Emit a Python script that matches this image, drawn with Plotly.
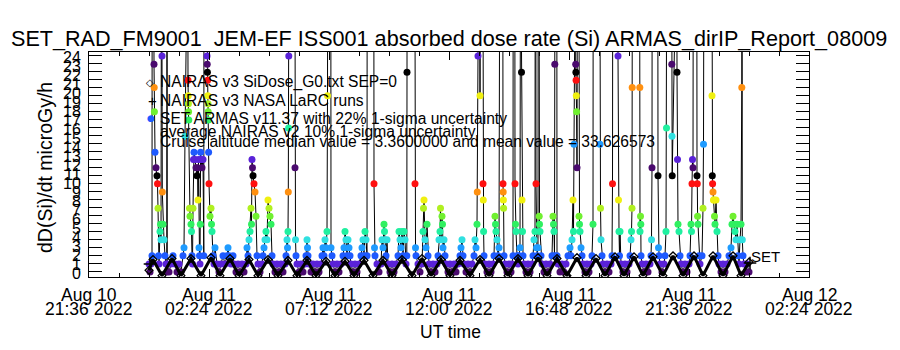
import plotly.graph_objects as go
from datetime import datetime, timedelta

# ---------------- data ----------------
title_text = "SET_RAD_FM9001  JEM-EF ISS001 absorbed dose rate (Si) ARMAS_dirIP_Report_08009"
y_label = "dD(Si)/dt microGy/h"
x_label = "UT time"

x_tick_times = ["2022-08-10 21:36", "2022-08-11 02:24", "2022-08-11 07:12", "2022-08-11 12:00",
                "2022-08-11 16:48", "2022-08-11 21:36", "2022-08-12 02:24"]
x_tick_line1 = ["Aug 10", "Aug 11", "Aug 11", "Aug 11", "Aug 11", "Aug 11", "Aug 12"]
x_tick_line2 = ["21:36 2022", "02:24 2022", "07:12 2022", "12:00 2022", "16:48 2022", "21:36 2022", "02:24 2022"]
y_tick_labels = [str(v) for v in range(0, 25)]
level_ticks = [0.11, 1.0, 1.89, 2.78, 3.67, 4.56, 5.44, 6.33, 7.22, 8.11, 9.0, 9.89, 10.78, 11.67,
               12.56, 13.44, 14.33, 15.22, 16.11, 17.0, 17.89, 18.78, 19.67, 20.56, 21.44, 22.33, 23.22, 24.11]

start_time = "2022-08-11 00:00"

# SET ARMAS dose rate: hours since start, dose (microGy/h); 40 = off-scale high (SAA)
armas_hours = [
    0.000, 0.040, 0.080, 0.120, 0.128, 0.192, 0.200, 0.208, 0.216, 0.240,
    0.280, 0.320, 0.340, 0.360, 0.380, 0.400, 0.440, 0.460, 0.480, 0.500,
    0.520, 0.532, 0.560, 0.600, 0.640, 0.680, 0.712, 0.720, 0.728, 0.800,
    0.880, 0.960, 1.040, 1.120, 1.200, 1.280, 1.360, 1.400, 1.440, 1.448,
    1.552, 1.560, 1.568, 1.576, 1.584, 1.592, 1.620, 1.640, 1.680, 1.700,
    1.720, 1.740, 1.760, 1.780, 1.800, 1.840, 1.880, 1.920, 1.940, 1.960,
    1.980, 2.000, 2.020, 2.040, 2.052, 2.064, 2.080, 2.120, 2.160, 2.192,
    2.200, 2.312, 2.320, 2.328, 2.336, 2.344, 2.352, 2.360, 2.368, 2.376,
    2.384, 2.400, 2.440, 2.480, 2.500, 2.520, 2.560, 2.600, 2.640, 2.720,
    2.800, 2.880, 2.960, 3.040, 3.120, 3.160, 3.200, 3.280, 3.360, 3.400,
    3.480, 3.560, 3.640, 3.720, 3.800, 3.880, 3.920, 3.960, 4.000, 4.040,
    4.080, 4.100, 4.120, 4.140, 4.160, 4.200, 4.240, 4.280, 4.320, 4.360,
    4.440, 4.520, 4.560, 4.600, 4.640, 4.680, 4.720, 4.760, 4.800, 4.840,
    4.880, 4.920, 4.960, 5.040, 5.120, 5.200, 5.280, 5.360, 5.440, 5.480,
    5.520, 5.540, 5.560, 5.572, 5.584, 5.592, 5.600, 5.832, 5.840, 5.860,
    5.880, 5.920, 6.000, 6.080, 6.160, 6.240, 6.280, 6.320, 6.340, 6.360,
    6.400, 6.480, 6.560, 6.640, 6.720, 6.800, 6.880, 6.920, 6.960, 7.000,
    7.040, 7.080, 7.120, 7.140, 7.152, 7.272, 7.280, 7.320, 7.360, 7.440,
    7.520, 7.600, 7.680, 7.760, 7.800, 7.840, 7.880, 7.920, 7.960, 8.000,
    8.040, 8.080, 8.160, 8.240, 8.320, 8.400, 8.480, 8.520, 8.560, 8.600,
    8.640, 8.680, 8.720, 8.728, 8.992, 9.000, 9.020, 9.040, 9.120, 9.200,
    9.280, 9.320, 9.360, 9.400, 9.420, 9.440, 9.480, 9.520, 9.560, 9.640,
    9.720, 9.800, 9.880, 9.960, 10.000, 10.040, 10.080, 10.120, 10.160, 10.200,
    10.240, 10.280, 10.312, 10.320, 10.328, 10.632, 10.640, 10.660, 10.680, 10.760,
    10.840, 10.920, 10.960, 10.980, 11.000, 11.040, 11.080, 11.120, 11.160, 11.200,
    11.280, 11.360, 11.440, 11.520, 11.560, 11.600, 11.640, 11.660, 11.680, 11.720,
    11.740, 11.760, 11.800, 11.840, 11.880, 11.960, 12.040, 12.120, 12.200, 12.280,
    12.360, 12.440, 12.480, 12.520, 12.560, 12.600, 12.680, 12.760, 12.840, 12.920,
    13.000, 13.040, 13.080, 13.120, 13.132, 13.160, 13.168, 13.232, 13.240, 13.248,
    13.352, 13.360, 13.372, 13.384, 13.400, 13.440, 13.520, 13.600, 13.680, 13.760,
    13.800, 13.840, 13.860, 13.880, 13.920, 13.960, 14.000, 14.032, 14.152, 14.160,
    14.168, 14.176, 14.184, 14.200, 14.240, 14.320, 14.400, 14.480, 14.520, 14.560,
    14.568, 14.632, 14.640, 14.660, 14.680, 14.720, 14.760, 14.800, 14.840, 14.860,
    14.892, 14.900, 14.920, 14.940, 14.960, 15.000, 15.080, 15.160, 15.240, 15.320,
    15.360, 15.400, 15.440, 15.448, 15.472, 15.480, 15.500, 15.520, 15.560, 15.568,
    15.600, 15.608, 15.620, 15.640, 15.680, 15.720, 15.800, 15.880, 15.960, 16.040,
    16.120, 16.160, 16.180, 16.200, 16.220, 16.232, 16.240, 16.312, 16.320, 16.360,
    16.440, 16.520, 16.600, 16.680, 16.760, 16.840, 16.880, 16.920, 16.960, 16.980,
    17.000, 17.020, 17.060, 17.068, 17.076, 17.084, 17.092, 17.104, 17.120, 17.140,
    17.192, 17.200, 17.220, 17.240, 17.280, 17.320, 17.360, 17.440, 17.520, 17.600,
    17.680, 17.720, 17.760, 17.768, 18.032, 18.040, 18.060, 18.080, 18.120, 18.160,
    18.240, 18.320, 18.400, 18.480, 18.520, 18.540, 18.552, 18.752, 18.760, 18.780,
    18.800, 18.820, 18.840, 18.880, 18.960, 19.040, 19.120, 19.200, 19.240, 19.280,
    19.300, 19.320, 19.328, 19.336, 19.624, 19.632, 19.640, 19.660, 19.672, 19.680,
    19.720, 19.800, 19.880, 19.960, 20.040, 20.080, 20.100, 20.120, 20.128, 20.352,
    20.360, 20.380, 20.400, 20.440, 20.520, 20.600, 20.640, 20.680, 20.700, 20.712,
    20.904, 20.912, 20.920, 20.928, 20.936, 21.112, 21.120, 21.140, 21.160, 21.200,
    21.240, 21.280, 21.360, 21.440, 21.520, 21.600, 21.640, 21.680, 21.700, 21.720,
    21.740, 21.760, 21.772, 21.912, 21.920, 21.932, 21.944, 21.960, 22.000, 22.040,
    22.120, 22.160, 22.180, 22.200, 22.512, 22.520, 22.532, 22.544, 22.560, 22.580,
    22.600, 22.620, 22.640, 22.680, 22.720, 22.760, 22.800, 22.880, 22.960, 23.040,
    23.120, 23.200, 23.280, 23.320, 23.360, 23.400, 23.440, 23.480, 23.520, 23.560,
    23.600, 23.640, 23.680, 23.712, 23.720, 23.732, 23.760, 23.800, 23.880, 23.920,
    24.000]
armas_dose = [
    1.0, 0.1, 1.0, 1.9, 40, 40, 23.2, 20.6, 17.9, 13.4,
    11.7, 10.8, 9.9, 7.2, 1.9, 1.0, 4.6, 5.4, 3.7, 40,
    24.1, 9.0, 5.4, 3.7, 1.9, 1.0, 0.1, 40, 1.0, 0.1,
    1.0, 1.9, 1.0, 0.1, 1.0, 0.1, 1.9, 2.8, 15.2, 40,
    40, 21.4, 19.7, 18.8, 17.9, 17.0, 7.2, 6.3, 5.4, 4.6,
    1.9, 1.0, 7.2, 12.6, 13.4, 12.6, 11.7, 10.8, 11.7, 8.1,
    12.6, 2.8, 1.9, 1.0, 5.4, 13.4, 12.6, 11.7, 12.6, 1.9,
    40, 40, 24.1, 23.2, 22.3, 21.4, 19.7, 18.8, 17.9, 17.0,
    13.4, 9.9, 6.3, 7.2, 5.4, 4.6, 1.9, 1.0, 2.8, 1.0,
    0.1, 1.0, 1.9, 1.0, 1.9, 2.8, 1.9, 1.0, 1.9, 1.0,
    0.1, 1.0, 0.1, 1.0, 0.1, 1.0, 2.8, 1.9, 3.7, 4.6,
    7.2, 5.4, 12.6, 11.7, 10.8, 9.9, 9.0, 6.3, 1.9, 1.0,
    0.1, 1.0, 1.9, 2.8, 3.7, 4.6, 3.7, 8.1, 7.2, 6.3,
    5.4, 1.9, 1.0, 0.1, 1.0, 0.1, 1.0, 0.1, 1.0, 1.9,
    3.7, 2.8, 4.6, 9.0, 16.1, 24.1, 40, 40, 11.7, 3.7,
    1.9, 1.0, 0.1, 1.0, 0.1, 1.0, 1.9, 3.7, 2.8, 1.9,
    1.0, 0.1, 1.0, 0.1, 1.0, 0.1, 1.0, 1.9, 2.8, 1.9,
    3.7, 2.8, 4.6, 19.7, 40, 40, 2.8, 1.9, 1.0, 0.1,
    1.0, 0.1, 1.0, 1.9, 2.8, 4.6, 3.7, 1.9, 3.7, 2.8,
    1.9, 1.0, 0.1, 1.0, 0.1, 1.0, 1.9, 2.8, 3.7, 1.9,
    4.6, 3.7, 1.9, 40, 40, 9.9, 2.8, 1.9, 1.0, 0.1,
    1.0, 3.7, 2.8, 5.4, 4.6, 3.7, 1.9, 3.7, 1.0, 0.1,
    1.0, 0.1, 1.0, 1.9, 4.6, 3.7, 2.8, 4.6, 1.9, 4.6,
    3.7, 1.0, 1.9, 22.3, 40, 40, 9.9, 2.8, 1.9, 1.0,
    0.1, 1.0, 4.6, 7.2, 8.1, 3.7, 2.8, 5.4, 1.9, 1.0,
    0.1, 1.0, 0.1, 1.0, 1.9, 3.7, 4.6, 7.2, 3.7, 6.3,
    5.4, 2.8, 3.7, 1.9, 1.0, 0.1, 1.0, 0.1, 1.0, 0.1,
    1.0, 1.9, 2.8, 3.7, 1.9, 1.0, 0.1, 1.0, 0.1, 1.0,
    1.9, 3.7, 2.8, 5.4, 9.0, 24.1, 40, 40, 19.7, 40,
    40, 9.9, 8.1, 4.6, 1.9, 1.0, 0.1, 1.0, 0.1, 1.0,
    1.9, 6.3, 5.4, 4.6, 3.7, 1.9, 2.8, 40, 40, 9.9,
    9.0, 8.1, 7.2, 1.9, 1.0, 0.1, 1.0, 0.1, 1.0, 1.9,
    40, 40, 9.9, 5.4, 4.6, 1.9, 1.0, 1.9, 2.8, 40,
    40, 22.3, 8.1, 4.6, 1.9, 1.0, 0.1, 1.0, 0.1, 1.0,
    1.9, 3.7, 4.6, 40, 40, 9.9, 2.8, 1.9, 2.8, 40,
    40, 6.3, 5.4, 4.6, 1.9, 1.0, 0.1, 1.0, 0.1, 1.0,
    1.9, 6.3, 5.4, 4.6, 1.9, 23.2, 40, 40, 1.9, 1.0,
    0.1, 1.0, 0.1, 1.0, 1.9, 2.8, 1.9, 3.7, 8.1, 4.6,
    14.3, 40, 40, 23.2, 22.3, 21.4, 19.7, 17.9, 11.7, 40,
    40, 6.3, 5.4, 4.6, 2.8, 1.9, 1.0, 0.1, 1.0, 0.1,
    1.0, 1.9, 5.4, 40, 40, 14.3, 7.2, 3.7, 1.9, 1.0,
    0.1, 1.0, 0.1, 1.0, 1.9, 9.9, 40, 40, 24.1, 8.1,
    4.6, 1.9, 4.6, 1.0, 0.1, 1.0, 0.1, 1.0, 1.9, 3.7,
    4.6, 7.2, 20.6, 40, 40, 20.6, 4.6, 6.3, 5.4, 1.9,
    1.0, 0.1, 1.0, 0.1, 1.0, 1.9, 3.7, 11.7, 40, 40,
    10.8, 2.8, 1.9, 1.0, 0.1, 1.0, 1.9, 4.6, 16.1, 40,
    40, 23.2, 15.2, 10.8, 40, 40, 22.3, 12.6, 5.4, 4.6,
    1.9, 1.0, 0.1, 1.0, 0.1, 1.0, 1.9, 5.4, 4.6, 9.9,
    12.6, 11.7, 40, 40, 10.8, 9.9, 6.3, 5.4, 1.9, 1.0,
    1.9, 7.2, 14.3, 40, 40, 19.7, 10.8, 9.9, 9.0, 8.1,
    8.1, 6.3, 5.4, 8.1, 4.6, 1.9, 1.0, 0.1, 1.0, 0.1,
    1.0, 1.9, 2.8, 5.4, 6.3, 5.4, 4.6, 3.7, 5.4, 1.9,
    1.0, 3.7, 5.4, 20.6, 40, 3.7, 1.9, 1.0, 0.1, 1.0,
    0.1]

# NAIRAS v3 SiDose_G0 model curve (hours since start, dose)
nairas_hours = [0.00, 0.16, 0.52, 0.92, 1.28, 1.68, 2.08, 2.48, 2.84, 3.24, 3.60, 4.00, 4.36, 4.76,
                5.16, 5.56, 5.92, 6.32, 6.68, 7.08, 7.44, 7.84, 8.20, 8.60, 8.96, 9.36, 9.72, 10.12,
                10.52, 10.92, 11.28, 11.68, 12.04, 12.44, 12.84, 13.24, 13.60, 14.00, 14.36, 14.76,
                15.16, 15.56, 15.92, 16.32, 16.72, 17.12, 17.48, 17.88, 18.24, 18.64, 19.00, 19.40,
                19.76, 20.16, 20.56, 20.96, 21.36, 21.80, 22.16, 22.56, 22.96, 23.36, 23.68, 24.00]
nairas_dose = [0.3, 1.5, -0.3, 1.6, -0.3, 1.6, -0.3, 1.7, -0.3, 1.6, -0.3, 1.5, -0.3, 1.5,
               -0.3, 1.4, -0.3, 1.4, -0.3, 1.3, -0.3, 1.3, -0.3, 1.4, -0.3, 1.4, -0.3, 1.5,
               -0.3, 1.6, -0.3, 1.5, -0.3, 1.4, -0.3, 1.5, -0.3, 1.6, -0.3, 1.6,
               -0.3, 1.7, -0.3, 1.6, -0.3, 1.7, -0.3, 1.6, -0.3, 1.8, -0.3, 1.8,
               -0.3, 1.8, -0.3, 1.9, -0.3, 1.9, -0.3, 1.9, -0.3, 1.9, -0.3, 1.2]

# NAIRAS v3 NASA LaRC runs
larc_hours = [0.04, 24.04]
larc_dose = [1.0, 1.1]

legend_lines = ["NAIRAS v3 SiDose_G0.txt SEP=0",
                "NAIRAS v3 NASA LaRC runs",
                "SET ARMAS v11.37 with 22% 1-sigma uncertainty",
                "average NAIRAS v2 10% 1-sigma uncertainty",
                "Cruise altitude median value = 3.3600000 and mean value = 33.626573"]

# ---------------- styling helpers ----------------
palette = ["#4a0a6e", "#5a22d8", "#1e5aff", "#1e9bff", "#30e0e0", "#20f0a0", "#30f060",
           "#70f030", "#b0f020", "#f0f010", "#ff9010", "#ff1010", "#000000"]


def level_color(v):
    k = int(round((9 * v - 1) / 8))
    return palette[k % 13]


t0 = datetime.strptime(start_time, "%Y-%m-%d %H:%M")


def to_dt(hs):
    return [t0 + timedelta(hours=h) for h in hs]


FONT = "Liberation Sans"
W, H = 900, 350
L, R, T, B = 89, 91, 52, 73
PW, PH = W - L - R, H - T - B


def px(x):
    return (x - L) / PW


def py(y):
    return (H - B - y) / PH


fig = go.Figure()

armas_t = to_dt(armas_hours)
fig.add_trace(go.Scatter(x=armas_t, y=armas_dose, mode="lines",
                         line=dict(color="black", width=1), showlegend=False, hoverinfo="skip"))
fig.add_trace(go.Scatter(x=armas_t, y=armas_dose, mode="markers",
                         marker=dict(size=7, color=[level_color(v) for v in armas_dose], line=dict(width=0)),
                         showlegend=False, hoverinfo="skip"))
fig.add_trace(go.Scatter(x=to_dt(nairas_hours), y=nairas_dose, mode="lines+markers",
                         line=dict(color="black", width=3),
                         marker=dict(symbol="diamond-open", size=6, color="black", line=dict(width=1.3)),
                         showlegend=False, hoverinfo="skip", yaxis="y2"))
fig.add_trace(go.Scatter(x=to_dt(larc_hours), y=larc_dose, mode="markers",
                         marker=dict(symbol="cross-thin-open", size=9, color="black",
                                     line=dict(width=1.5, color="black")),
                         showlegend=False, hoverinfo="skip", yaxis="y2"))

yr = [-0.45, 24.55]
fig.update_layout(
    width=W, height=H, margin=dict(l=L, r=R, t=T, b=B),
    paper_bgcolor="white", plot_bgcolor="white",
    font=dict(family=FONT, color="black", size=16),
    xaxis=dict(type="date", range=[x_tick_times[0], x_tick_times[-1]],
               tickvals=x_tick_times, showticklabels=False,
               ticks="inside", ticklen=8, tickcolor="black",
               minor=dict(ticks="inside", ticklen=4, tickcolor="black", dtick=1.2 * 3600 * 1000,
                          tick0=x_tick_times[0], showgrid=False),
               showline=True, linecolor="black", linewidth=1, mirror="ticks",
               showgrid=False, zeroline=False),
    yaxis=dict(range=yr, tickvals=list(range(0, 25)), ticktext=y_tick_labels,
               ticks="", showline=True, linecolor="black", linewidth=1, mirror=True,
               showgrid=False, zeroline=False, tickfont=dict(size=16), ticklabelstandoff=4),
    yaxis2=dict(range=yr, overlaying="y", side="left", tickvals=level_ticks,
                showticklabels=False, ticks="inside", ticklen=13, tickcolor="black",
                showline=True, linecolor="black", mirror="ticks",
                showgrid=False, zeroline=False),
)

ann = []
ann.append(dict(text=title_text, x=px(449), y=py(38), xref="paper", yref="paper",
                showarrow=False, font=dict(size=21.6), xanchor="center", yanchor="middle"))
for tv, l1, l2 in zip(x_tick_times, x_tick_line1, x_tick_line2):
    ann.append(dict(text=l1, x=tv, y=py(295), xref="x", yref="paper", showarrow=False,
                    font=dict(size=17.5), xanchor="center", yanchor="middle"))
    ann.append(dict(text=l2, x=tv, y=py(309), xref="x", yref="paper", showarrow=False,
                    font=dict(size=17.5), xanchor="center", yanchor="middle"))
ann.append(dict(text=x_label, x=px(450), y=py(332), xref="paper", yref="paper", showarrow=False,
                font=dict(size=17.5), xanchor="center", yanchor="middle"))
ann.append(dict(text=y_label, x=px(45), y=py(168), xref="paper", yref="paper", showarrow=False,
                font=dict(size=19.5), textangle=-90, xanchor="center", yanchor="middle"))
legend_y = [82, 100, 118, 131, 141]
for txt, yy in zip(legend_lines, legend_y):
    ann.append(dict(text=txt, x=px(158), y=py(yy), xref="paper", yref="paper", showarrow=False,
                    font=dict(size=15.6), xanchor="left", yanchor="middle"))
ann.append(dict(text="◇", x=px(150), y=py(82), xref="paper", yref="paper", showarrow=False,
                font=dict(size=10, family="DejaVu Sans"), xanchor="center", yanchor="middle"))
ann.append(dict(text="+", x=px(152), y=py(100), xref="paper", yref="paper", showarrow=False,
                font=dict(size=15), xanchor="center", yanchor="middle"))
ann.append(dict(text="●", x=px(151), y=py(118), xref="paper", yref="paper", showarrow=False,
                font=dict(size=9, color=palette[2], family="DejaVu Sans"), xanchor="center", yanchor="middle"))
ann.append(dict(text="SET", x=px(749), y=py(256), xref="paper", yref="paper", showarrow=False,
                font=dict(size=15), xanchor="left", yanchor="middle"))
fig.update_layout(annotations=ann)

fig.write_html("out.html")
